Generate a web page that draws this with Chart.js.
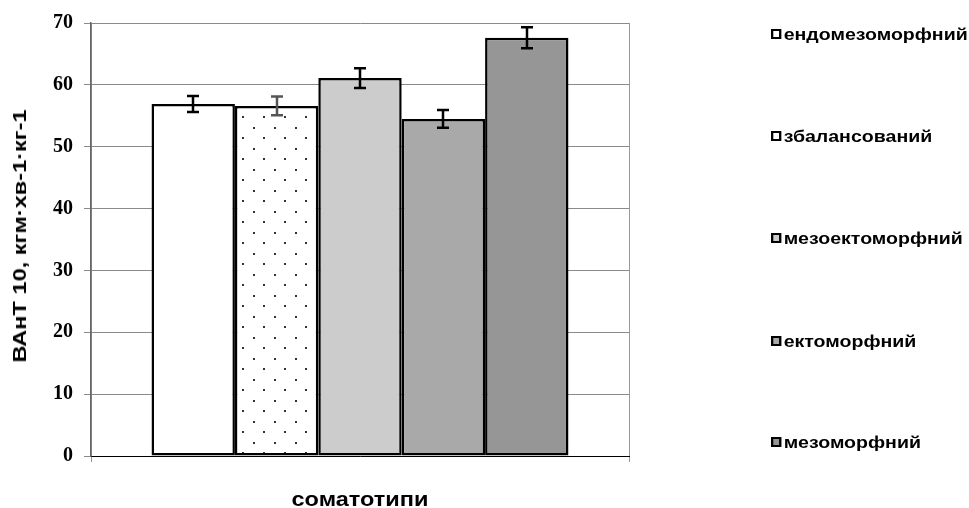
<!DOCTYPE html>
<html>
<head>
<meta charset="utf-8">
<script src="https://cdn.jsdelivr.net/npm/chart.js@4.4.1/dist/chart.umd.min.js"></script>
<style>
  html, body { margin: 0; padding: 0; background: #fff; }
  #wrap { position: relative; width: 969px; height: 508px; overflow: hidden; }
  .lbl { position: absolute; white-space: nowrap; color: #000;
         font-family: "Liberation Sans", Arial, sans-serif; font-weight: bold; }
  #ytitle { left: 20px; top: 236px; font-size: 19px; line-height: 22px;
            transform: translate(-50%, -50%) rotate(-90deg) scaleX(1.24); }
  #xtitle { left: 360px; top: 487px; font-size: 21px; line-height: 24px;
            transform: translateX(-50%) scaleX(1.12); }
  #legend { position: absolute; left: 771px; top: 0; margin: 0; padding: 0; list-style: none; }
  #legend li { position: absolute; left: 0; white-space: nowrap; font-size: 17px; line-height: 20px;
               transform-origin: 0 50%; transform: scaleX(1.15); }
  #legend .box { display: inline-block; width: 5px; height: 6px; border: 2px solid #000;
                 margin-right: 2px; position: relative; top: -1px; vertical-align: middle; }
</style>
</head>
<body>
<div id="wrap">
  <canvas id="c" width="969" height="508"></canvas>
  <div id="ytitle" class="lbl"></div>
  <div id="xtitle" class="lbl"></div>
  <ul id="legend" class="lbl"></ul>
</div>
<script>
// Somatotypes and their mean values with standard errors
const somatotypes = ['ендомезоморфний', 'збалансований', 'мезоектоморфний', 'ектоморфний', 'мезоморфний'];
const means = [56.9, 56.6, 61.1, 54.5, 67.6];
const errors = [1.3, 1.5, 1.6, 1.45, 1.7];
const categories = [''];
const yTicks = [0, 10, 20, 30, 40, 50, 60, 70];
const yTitle = 'ВАнТ 10, кгм·хв-1·кг-1';
const xTitle = 'соматотипи';

const fills = ['#ffffff', 'dots', '#cccccc', '#a9a9a9', '#969696'];
const errColors = ['#000000', '#555555', '#000000', '#000000', '#000000'];

// dotted fill for the balanced type
function dotPattern() {
  const t = document.createElement('canvas');
  t.width = 21; t.height = 21;
  const g = t.getContext('2d');
  g.fillStyle = '#fff';
  g.fillRect(0, 0, 21, 21);
  g.fillStyle = '#333';
  g.fillRect(1, 1, 2, 2);
  g.fillRect(11, 11, 2, 2);
  return g.createPattern(t, 'repeat');
}
const ctx = document.getElementById('c').getContext('2d');
const pattern = dotPattern();

const datasets = somatotypes.map((name, i) => ({
  label: name,
  data: [means[i]],
  backgroundColor: fills[i] === 'dots' ? pattern : fills[i],
  borderColor: '#000',
  borderWidth: 2.5,
  borderSkipped: false,
  categoryPercentage: 0.775,
  barPercentage: 1.0
}));

// error bars drawn at each bar's centre
const errorBars = {
  id: 'errorBars',
  afterDatasetsDraw(chart) {
    const c = chart.ctx;
    const y = chart.scales.y;
    chart.data.datasets.forEach((ds, i) => {
      const bar = chart.getDatasetMeta(i).data[0];
      const top = y.getPixelForValue(means[i] + errors[i]);
      const bot = y.getPixelForValue(means[i] - errors[i]);
      const x = Math.round(bar.x);
      c.save();
      c.strokeStyle = errColors[i];
      c.lineWidth = 2.5;
      c.beginPath();
      c.moveTo(x, top); c.lineTo(x, bot);
      c.moveTo(x - 6, top); c.lineTo(x + 6, top);
      c.moveTo(x - 6, bot); c.lineTo(x + 6, bot);
      c.stroke();
      c.restore();
    });
  }
};

new Chart(ctx, {
  type: 'bar',
  data: { labels: categories, datasets },
  plugins: [errorBars],
  options: {
    responsive: false,
    animation: false,
    layout: { padding: { top: 22, right: 340, left: 0, bottom: 0 } },
    plugins: { legend: { display: false }, tooltip: { enabled: false } },
    scales: {
      x: {
        afterFit(s) { s.height = 52; },
        ticks: { display: false },
        grid: { color: '#999', lineWidth: 1, tickLength: 6, drawOnChartArea: true },
        border: { color: '#000', width: 1 }
      },
      y: {
        min: 0, max: 70,
        afterFit(s) { s.width = 91; },
        afterBuildTicks(s) { s.ticks = yTicks.map(v => ({ value: v })); },
        ticks: {
          color: '#000', padding: 11,
          font: { family: '"Liberation Serif", "Times New Roman"', size: 20, weight: 'bold' }
        },
        grid: { color: '#8a8a8a', lineWidth: 1, tickLength: 7 },
        border: { color: '#666', width: 1.5 }
      }
    }
  }
});

// axis titles and legend
document.getElementById('ytitle').textContent = yTitle;
document.getElementById('xtitle').textContent = xTitle;

const legendMid = [36, 138, 240, 343, 444];
const ul = document.getElementById('legend');
somatotypes.forEach((name, i) => {
  const li = document.createElement('li');
  li.style.top = (legendMid[i] - 11.5) + 'px';
  const box = document.createElement('span');
  box.className = 'box';
  box.style.background = fills[i] === 'dots' ? '#fff' : fills[i];
  li.appendChild(box);
  li.appendChild(document.createTextNode(name));
  ul.appendChild(li);
});
</script>
</body>
</html>
